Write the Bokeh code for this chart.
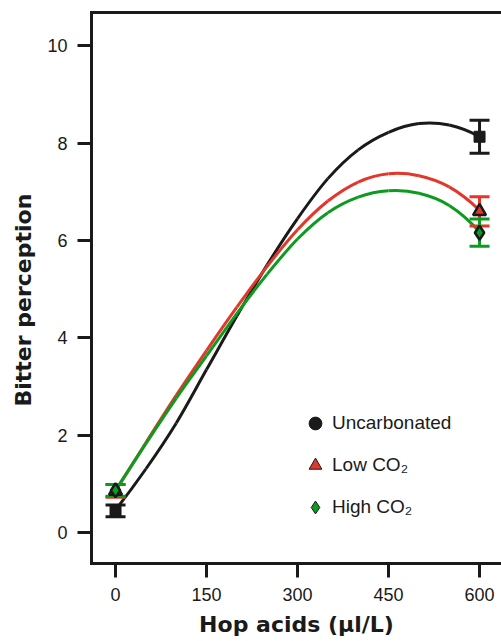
import numpy as np
from bokeh.plotting import figure
from bokeh.models import (Range1d, FixedTicker, LinearAxis, Legend, LegendItem, Title)
from bokeh.embed import file_html
from bokeh.resources import INLINE

# ---------------- data ----------------
dose = [0, 600]
uncarb_mean = [0.45, 8.13]
uncarb_err = [0.12, 0.34]
low_mean = [0.86, 6.60]
low_err = [0.13, 0.30]
high_mean = [0.87, 6.16]
high_err = [0.12, 0.28]

# fitted curves, every 50 units
curve_x = [0, 50, 100, 150, 200, 250, 300, 350, 400, 450, 500, 550, 600]
uncarb_curve = [0.47, 1.31, 2.25, 3.35, 4.45, 5.50, 6.45, 7.27, 7.86, 8.22, 8.40, 8.37, 8.13]
low_curve = [0.86, 1.85, 2.82, 3.74, 4.63, 5.47, 6.22, 6.81, 7.20, 7.37, 7.33, 7.10, 6.62]
high_curve = [0.87, 1.83, 2.76, 3.63, 4.50, 5.31, 6.03, 6.57, 6.89, 7.02, 6.97, 6.72, 6.18]

x_ticks = [0, 150, 300, 450, 600]
y_ticks = [0, 2, 4, 6, 8, 10]

series_names = ["Uncarbonated", "Low CO\u2082", "High CO\u2082"]

BLACK = "#1a1a1a"
RED = "#e2372b"
GREEN = "#0c9b1f"


def catmull_rom_bezier(xs, ys):
    """Bezier control points so the drawn curve passes smoothly through the read points."""
    n = len(xs)
    # ghost end points by quadratic extrapolation (keeps end curvature natural)
    gx0 = 3 * xs[0] - 3 * xs[1] + xs[2]
    gy0 = 3 * ys[0] - 3 * ys[1] + ys[2]
    gxn = 3 * xs[-1] - 3 * xs[-2] + xs[-3]
    gyn = 3 * ys[-1] - 3 * ys[-2] + ys[-3]
    px = [gx0] + list(xs) + [gxn]
    py = [gy0] + list(ys) + [gyn]
    out = {k: [] for k in ("x0", "y0", "x1", "y1", "cx0", "cy0", "cx1", "cy1")}
    for i in range(1, n):
        out["x0"].append(px[i]); out["y0"].append(py[i])
        out["x1"].append(px[i + 1]); out["y1"].append(py[i + 1])
        out["cx0"].append(px[i] + (px[i + 1] - px[i - 1]) / 6.0)
        out["cy0"].append(py[i] + (py[i + 1] - py[i - 1]) / 6.0)
        out["cx1"].append(px[i + 1] - (px[i + 2] - px[i]) / 6.0)
        out["cy1"].append(py[i + 1] - (py[i + 2] - py[i]) / 6.0)
    return out


p = figure(width=501, height=641,
           x_range=Range1d(-39.6, 636.2), y_range=Range1d(-0.63, 10.68),
           output_backend="svg", toolbar_location=None,
           min_border_left=91, min_border_right=0, min_border_top=12, min_border_bottom=78)
p.outline_line_color = None
p.grid.visible = False
p.background_fill_color = "white"
p.border_fill_color = "white"

# curves
for ys, col in ((uncarb_curve, BLACK), (low_curve, RED), (high_curve, GREEN)):
    b = catmull_rom_bezier(curve_x, ys)
    p.bezier(x0=b["x0"], y0=b["y0"], x1=b["x1"], y1=b["y1"],
             cx0=b["cx0"], cy0=b["cy0"], cx1=b["cx1"], cy1=b["cy1"],
             line_color=col, line_width=3)

# error bars
for means, errs, col in ((uncarb_mean, uncarb_err, BLACK), (low_mean, low_err, RED), (high_mean, high_err, GREEN)):
    up = [m + e for m, e in zip(means, errs)]
    lo = [m - e for m, e in zip(means, errs)]
    p.segment(x0=dose, y0=lo, x1=dose, y1=up, line_color=col, line_width=3)
    p.scatter(x=dose + dose, y=up + lo, marker="dash", size=20, line_color=col, line_width=3)

# markers
p.scatter(x=dose, y=uncarb_mean, marker="square", size=11, fill_color=BLACK, line_color=BLACK, line_width=1)
p.scatter(x=dose, y=low_mean, marker="triangle", size=13, fill_color=RED, line_color=BLACK, line_width=2.5)
p.scatter(x=dose, y=high_mean, marker="diamond", size=14, fill_color=GREEN, line_color=BLACK, line_width=2.5)

# legend glyphs (legend only: a single NaN point that is never drawn)
lg1 = p.scatter(x=[np.nan], y=[np.nan], marker="circle", fill_color=BLACK, line_color=BLACK)
lg2 = p.scatter(x=[np.nan], y=[np.nan], marker="triangle", fill_color=RED, line_color=BLACK, line_width=1)
lg3 = p.scatter(x=[np.nan], y=[np.nan], marker="diamond", angle=np.pi / 2,
                fill_color=GREEN, line_color=BLACK, line_width=1)
legend = Legend(items=[LegendItem(label=series_names[0], renderers=[lg1]),
                       LegendItem(label=series_names[1], renderers=[lg2]),
                       LegendItem(label=series_names[2], renderers=[lg3])],
                location=(208, 40), glyph_width=32, glyph_height=32, spacing=10,
                label_standoff=1, padding=0, margin=0,
                border_line_color=None, background_fill_alpha=0,
                label_text_font="Liberation Sans", label_text_font_size="19px",
                label_text_color=BLACK)
p.add_layout(legend)

# axes
for ax in (p.xaxis[0], p.yaxis[0]):
    ax.axis_line_width = 3
    ax.axis_line_color = BLACK
    ax.axis_line_cap = "square"
    ax.major_tick_line_width = 3
    ax.major_tick_line_color = BLACK
    ax.major_tick_out = 14
    ax.major_tick_in = 0
    ax.minor_tick_line_color = None
    ax.major_label_text_font = "Liberation Sans"
    ax.major_label_text_font_size = "18px"
    ax.major_label_text_color = BLACK

p.xaxis[0].ticker = FixedTicker(ticks=x_ticks)
p.xaxis[0].major_label_standoff = 10
p.xaxis[0].axis_label = "Hop acids (\u00b5l/L)"
p.xaxis[0].axis_label_text_font = "DejaVu Sans"
p.xaxis[0].axis_label_text_font_style = "bold"
p.xaxis[0].axis_label_text_font_size = "22px"
p.xaxis[0].axis_label_text_color = BLACK
p.xaxis[0].axis_label_standoff = 8

p.yaxis[0].ticker = FixedTicker(ticks=y_ticks)
p.yaxis[0].major_label_standoff = 10

# top frame line
top = LinearAxis(ticker=FixedTicker(ticks=[]), axis_line_width=3, axis_line_color=BLACK,
                 axis_line_cap="square",
                 major_tick_out=0, major_tick_in=0, minor_tick_out=0, minor_tick_in=0,
                 major_label_text_font_size="0px")
p.add_layout(top, "above")

# y axis title
ytitle = Title(text="Bitter perception", align="left", offset=157, standoff=14,
               vertical_align="top",
               text_font="DejaVu Sans", text_font_style="bold", text_font_size="22px",
               text_color=BLACK)
p.add_layout(ytitle, "left")

open("out.html", "w").write(file_html(p, INLINE))
